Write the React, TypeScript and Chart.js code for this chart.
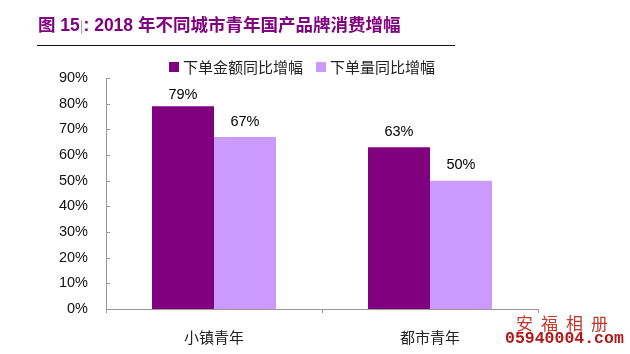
import React, { useEffect, useRef } from "react";
import { Chart, registerables } from "chart.js";

Chart.register(...registerables);

const categories = ["小镇青年", "都市青年"];
const seriesNames = ["下单金额同比增幅", "下单量同比增幅"];
const amountGrowth = [79, 63];
const volumeGrowth = [67, 50];
const seriesColors = ["#800080", "#CC99FF"];
const yMin = 0;
const yMax = 90;
const yStep = 10;

const titleMain = "图 15";
const titleRest = ": 2018 年不同城市青年国产品牌消费增幅";
const watermarkCn = "安福相册";
const watermarkUrl = "05940004.com";

const valueLabelPlugin = {
  id: "valueLabels",
  afterDatasetsDraw(chart: any) {
    const ctx = chart.ctx;
    ctx.save();
    ctx.font = '14.5px "Liberation Sans", Arial, sans-serif';
    ctx.fillStyle = "#000";
    ctx.textAlign = "center";
    ctx.textBaseline = "middle";
    const minY = chart.chartArea.top + 17;
    chart.data.datasets.forEach((ds: any, i: number) => {
      const meta = chart.getDatasetMeta(i);
      meta.data.forEach((el: any, j: number) => {
        const y = Math.max(el.y - 15.5, minY);
        ctx.fillText(ds.data[j] + "%", el.x, y);
      });
    });
    ctx.restore();
  },
};

const innerTicksPlugin = {
  id: "innerTicks",
  afterDraw(chart: any) {
    const ys = chart.scales.y;
    const ctx = chart.ctx;
    const left = chart.chartArea.left;
    ctx.save();
    ctx.strokeStyle = "#999";
    ctx.lineWidth = 1;
    ys.ticks.forEach((t: any) => {
      const y = Math.round(ys.getPixelForValue(t.value)) + 0.5;
      ctx.beginPath();
      ctx.moveTo(left, y);
      ctx.lineTo(left + 4, y);
      ctx.stroke();
    });
    ctx.restore();
  },
};

const legendPlugin = {
  id: "customLegend",
  afterDraw(chart: any) {
    const ctx = chart.ctx;
    ctx.save();
    ctx.font = '15px "Noto Sans CJK SC", sans-serif';
    ctx.textBaseline = "middle";
    ctx.textAlign = "left";
    const box = 10;
    const gapText = 4;
    const gapItem = 13;
    const items = chart.data.datasets.map((ds: any) => ({
      label: ds.label,
      color: ds.backgroundColor,
      w: ctx.measureText(ds.label).width,
    }));
    const total = items.reduce((s: number, it: any) => s + box + gapText + it.w, 0) + gapItem * (items.length - 1);
    const cx = 302;
    const cy = 67;
    let x = cx - total / 2;
    items.forEach((it: any) => {
      ctx.fillStyle = it.color;
      ctx.fillRect(x, cy - box / 2, box, box);
      x += box + gapText;
      ctx.fillStyle = "#222";
      ctx.fillText(it.label, x, cy);
      x += it.w + gapItem;
    });
    ctx.restore();
  },
};

export default function App() {
  const ref = useRef<HTMLCanvasElement | null>(null);

  useEffect(() => {
    if (!ref.current) return;
    const chart = new Chart(ref.current, {
      type: "bar",
      data: {
        labels: categories,
        datasets: [
          {
            label: seriesNames[0],
            data: amountGrowth,
            backgroundColor: seriesColors[0],
            categoryPercentage: 0.574,
            barPercentage: 1,
          },
          {
            label: seriesNames[1],
            data: volumeGrowth,
            backgroundColor: seriesColors[1],
            categoryPercentage: 0.574,
            barPercentage: 1,
          },
        ],
      },
      options: {
        responsive: false,
        animation: false,
        devicePixelRatio: 1,
        layout: { padding: { left: 46, right: 92, top: 78, bottom: 5 } },
        plugins: {
          legend: { display: false },
          tooltip: { enabled: false },
          title: { display: false },
        },
        scales: {
          x: {
            type: "category",
            offset: true,
            grid: {
              display: true,
              drawOnChartArea: false,
              offset: true,
              tickLength: 4,
              color: "#999",
            },
            border: { display: true, color: "#999", width: 1 },
            ticks: {
              font: { family: '"Noto Sans CJK SC", sans-serif', size: 15 },
              color: "#222",
              padding: 15,
            },
            afterFit: (s: any) => {
              s.height = 40;
            },
          },
          y: {
            min: yMin,
            max: yMax,
            grid: { display: false, drawTicks: false },
            border: { display: true, color: "#999", width: 1 },
            ticks: {
              stepSize: yStep,
              font: { family: '"Liberation Sans", Arial, sans-serif', size: 14.5 },
              color: "#111",
              padding: 18,
              callback: (v: any) => v + "%",
            },
            afterFit: (s: any) => {
              s.width = 60;
            },
          },
        },
      },
      plugins: [valueLabelPlugin, innerTicksPlugin, legendPlugin],
    } as any);
    return () => chart.destroy();
  }, []);

  return (
    <div style={{ position: "absolute", left: 0, top: 0, width: 630, height: 354, background: "#fff", overflow: "hidden" }}>
      <canvas ref={ref} width={630} height={354} style={{ position: "absolute", left: 0, top: 0, width: 630, height: 354 }} />
      <div
        style={{
          position: "absolute",
          left: 38,
          top: 14,
          fontFamily: '"Liberation Sans", "Noto Sans CJK SC", sans-serif',
          fontWeight: "bold",
          fontSize: 17.5,
          lineHeight: "22px",
          color: "#800080",
          whiteSpace: "nowrap",
        }}
      >
        {titleMain}
        <span style={{ color: "#aaa", fontWeight: "normal", fontSize: 14 }}>|</span>
        {titleRest}
      </div>
      <div style={{ position: "absolute", left: 37, top: 45, width: 418, height: 1, background: "#111" }} />
      <div
        style={{
          position: "absolute",
          left: 516,
          top: 313,
          fontFamily: '"Noto Sans CJK SC", serif',
          fontSize: 17,
          letterSpacing: 8,
          color: "#c0392b",
          whiteSpace: "nowrap",
          lineHeight: "20px",
        }}
      >
        {watermarkCn}
      </div>
      <div
        style={{
          position: "absolute",
          left: 505,
          top: 330,
          fontFamily: '"Liberation Mono", monospace',
          fontWeight: "bold",
          fontSize: 16.5,
          color: "#b01818",
          whiteSpace: "nowrap",
          lineHeight: "18px",
        }}
      >
        {watermarkUrl}
      </div>
    </div>
  );
}
